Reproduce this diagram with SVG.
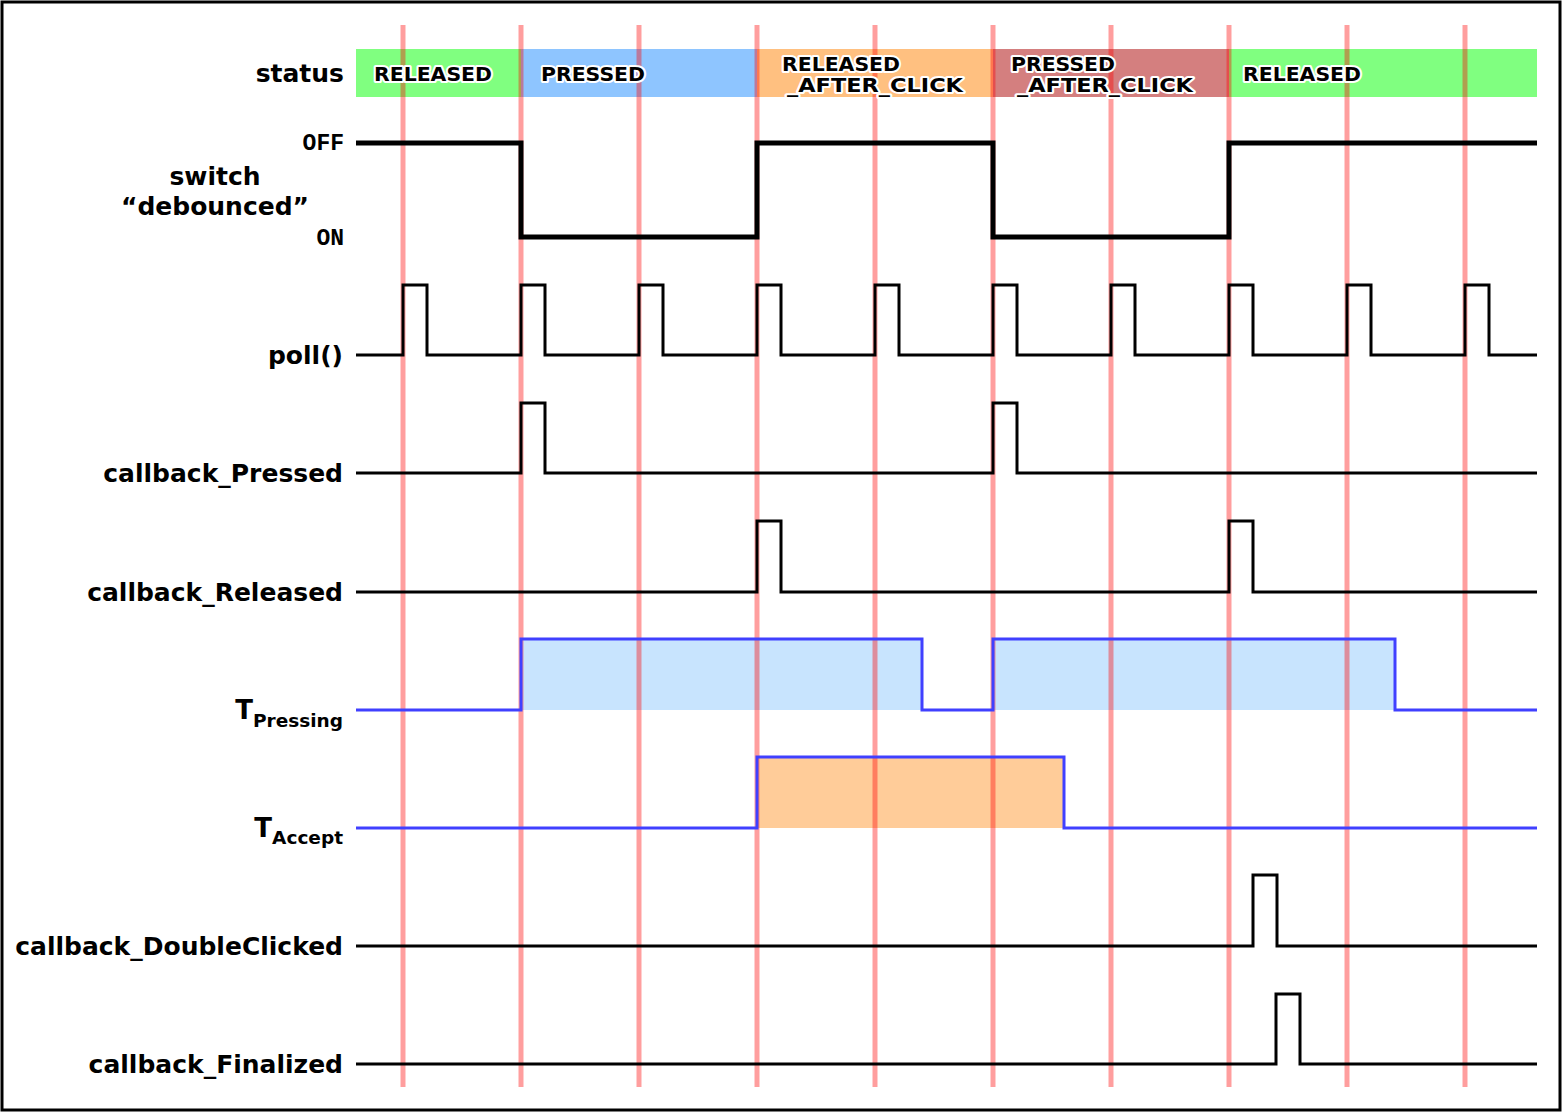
<svg xmlns="http://www.w3.org/2000/svg" width="1563" height="1114" viewBox="0 0 1563 1114">
<style>
.lbl{font-family:"DejaVu Sans",Verdana,sans-serif;font-weight:bold;font-size:25px;fill:#000;text-anchor:end}
.st{font-family:"DejaVu Sans",Verdana,sans-serif;font-weight:bold;font-size:19px;fill:#000;stroke:#fff;stroke-width:4;paint-order:stroke;stroke-linejoin:round}
.mono{font-family:"Liberation Mono","Courier New",monospace;font-weight:bold;font-size:23px;fill:#000;text-anchor:end}
.grid line{stroke:#ff0000;stroke-opacity:0.38;stroke-width:5}
.sig{fill:none;stroke:#000;stroke-width:3}
.tsig{fill:none;stroke:#4040ff;stroke-width:3}
</style>
<rect x="0" y="0" width="1563" height="1114" fill="#fff"/>
<rect x="2" y="2" width="1558" height="1108" fill="none" stroke="#000" stroke-width="3"/>
<g id="status-bar">
<rect x="356" y="49" width="165" height="48" fill="#80ff80"/>
<rect x="521" y="49" width="236" height="48" fill="#8ec5ff"/>
<rect x="757" y="49" width="236" height="48" fill="#ffc080"/>
<rect x="993" y="49" width="236" height="48" fill="#d47f7f"/>
<rect x="1229" y="49" width="308" height="48" fill="#80ff80"/>
</g>
<g id="fills">
<rect x="521" y="639" width="401" height="71" fill="#c8e4fe"/>
<rect x="993" y="639" width="402" height="71" fill="#c8e4fe"/>
<rect x="757" y="757" width="307" height="71" fill="#ffcc99"/>
</g>
<g class="grid" id="grid">
<line x1="403" y1="25" x2="403" y2="1087"/>
<line x1="521" y1="25" x2="521" y2="1087"/>
<line x1="639" y1="25" x2="639" y2="1087"/>
<line x1="757" y1="25" x2="757" y2="1087"/>
<line x1="875" y1="25" x2="875" y2="1087"/>
<line x1="993" y1="25" x2="993" y2="1087"/>
<line x1="1111" y1="25" x2="1111" y2="1087"/>
<line x1="1229" y1="25" x2="1229" y2="1087"/>
<line x1="1347" y1="25" x2="1347" y2="1087"/>
<line x1="1465" y1="25" x2="1465" y2="1087"/>
</g>
<g id="connectors">
<path id="switch" d="M356 143 H521 V237 H757 V143 H993 V237 H1229 V143 H1537" fill="none" stroke="#000" stroke-width="5"/>
<path id="poll" class="sig" d="M356 355 H403 V285 H427 V355 H521 V285 H545 V355 H639 V285 H663 V355 H757 V285 H781 V355 H875 V285 H899 V355 H993 V285 H1017 V355 H1111 V285 H1135 V355 H1229 V285 H1253 V355 H1347 V285 H1371 V355 H1465 V285 H1489 V355 H1537"/>
<path id="cbPressed" class="sig" d="M356 473 H521 V403 H545 V473 H993 V403 H1017 V473 H1537"/>
<path id="cbReleased" class="sig" d="M356 592 H757 V521 H781 V592 H1229 V521 H1253 V592 H1537"/>
<path id="tPressing" class="tsig" d="M356 710 H521 V639 H922 V710 H993 V639 H1395 V710 H1537"/>
<path id="tAccept" class="tsig" d="M356 828 H757 V757 H1064 V828 H1537"/>
<path id="cbDouble" class="sig" d="M356 946 H1253 V875 H1277 V946 H1537"/>
<path id="cbFinal" class="sig" d="M356 1064 H1276 V994 H1300 V1064 H1537"/>
</g>
<g id="status-labels">
<text class="st" x="374" y="81" textLength="118" lengthAdjust="spacingAndGlyphs">RELEASED</text>
<text class="st" x="541" y="81" textLength="104" lengthAdjust="spacingAndGlyphs">PRESSED</text>
<text class="st" x="782" y="71" textLength="118" lengthAdjust="spacingAndGlyphs">RELEASED</text>
<text class="st" x="787" y="92" textLength="176" lengthAdjust="spacingAndGlyphs">_AFTER_CLICK</text>
<text class="st" x="1011" y="71" textLength="104" lengthAdjust="spacingAndGlyphs">PRESSED</text>
<text class="st" x="1017" y="92" textLength="176" lengthAdjust="spacingAndGlyphs">_AFTER_CLICK</text>
<text class="st" x="1243" y="81" textLength="118" lengthAdjust="spacingAndGlyphs">RELEASED</text>
</g>
<g id="labels">
<text class="lbl" x="344" y="82">status</text>
<text class="mono" x="344" y="150">OFF</text>
<text class="mono" x="344" y="245">ON</text>
<text class="lbl" x="215" y="185" style="text-anchor:middle">switch</text>
<text class="lbl" x="215" y="215" style="text-anchor:middle">“debounced”</text>
<text class="lbl" x="343" y="364">poll()</text>
<text class="lbl" x="343" y="482">callback_Pressed</text>
<text class="lbl" x="343" y="601">callback_Released</text>
<text class="lbl" x="343" y="727"><tspan font-size="26" dy="-8">T</tspan><tspan font-size="18.5" dy="8">Pressing</tspan></text>
<text class="lbl" x="343" y="844"><tspan font-size="26" dy="-7">T</tspan><tspan font-size="18.5" dy="7">Accept</tspan></text>
<text class="lbl" x="343" y="955">callback_DoubleClicked</text>
<text class="lbl" x="343" y="1073">callback_Finalized</text>
</g>
</svg>
